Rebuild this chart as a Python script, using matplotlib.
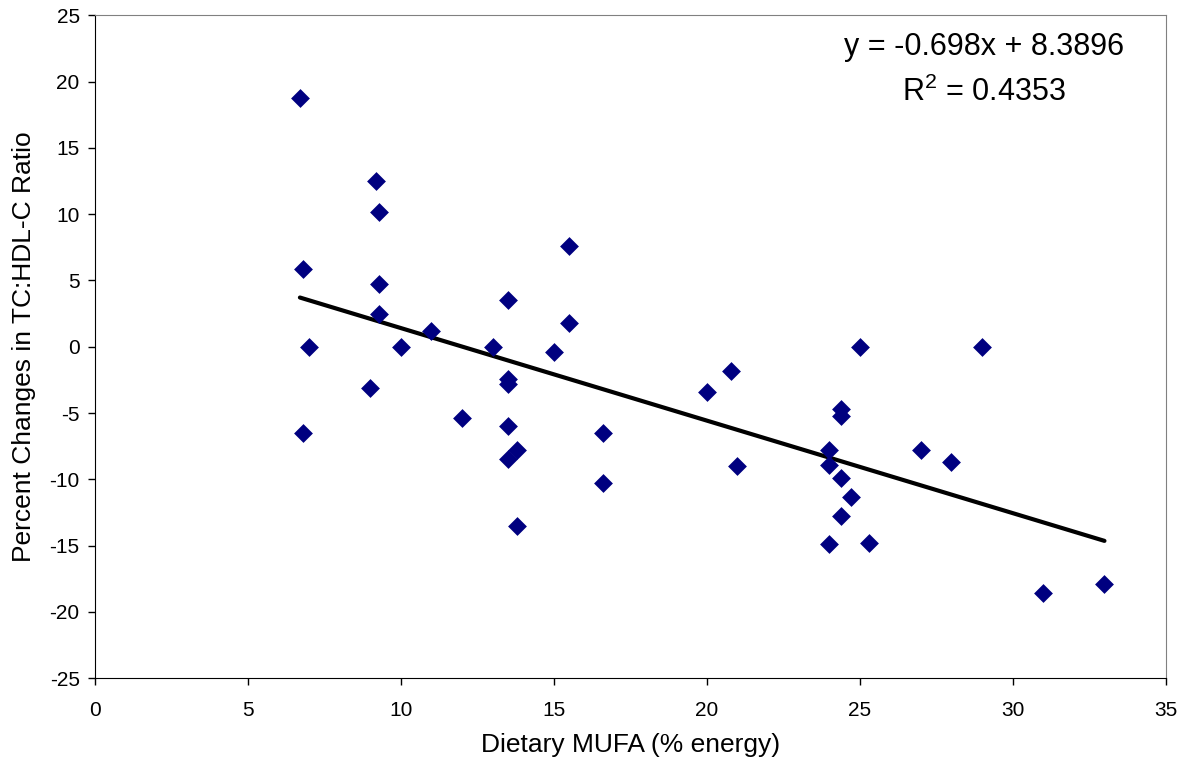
import numpy as np
import matplotlib
matplotlib.use("Agg")
import matplotlib.pyplot as plt

plt.rcParams['font.family'] = ['Liberation Sans', 'DejaVu Sans']
plt.rcParams['axes.unicode_minus'] = False
plt.rcParams['mathtext.default'] = 'regular'

# dietary MUFA (% energy) vs percent change in TC:HDL-C ratio
mufa = [6.7, 6.8, 6.8, 7.0, 9.0, 9.2, 9.3, 9.3, 9.3, 10.0, 11.0, 12.0, 13.0,
        13.5, 13.5, 13.5, 13.5, 13.5, 13.8, 13.8, 15.0, 15.5, 15.5, 16.6, 16.6,
        20.0, 20.8, 21.0, 24.0, 24.0, 24.0, 24.4, 24.4, 24.4, 24.4, 24.7, 25.0,
        25.3, 27.0, 28.0, 29.0, 31.0, 33.0]
pct_change = [18.8, 5.9, -6.5, 0.0, -3.1, 12.5, 10.2, 4.7, 2.5, 0.0, 1.2, -5.4, 0.0,
              3.5, -2.4, -2.8, -6.0, -8.5, -7.8, -13.5, -0.4, 7.6, 1.8, -6.5, -10.3,
              -3.4, -1.8, -9.0, -7.8, -8.9, -14.9, -4.7, -5.2, -9.9, -12.8, -11.3, 0.0,
              -14.8, -7.8, -8.7, 0.0, -18.6, -17.9]

slope = -0.698
intercept = 8.3896
r2 = 0.4353

fig = plt.figure(figsize=(11.87, 7.68), dpi=100)
ax = fig.add_axes([0.080, 0.117, 0.902, 0.863])

ax.scatter(mufa, pct_change, marker='D', s=92, color='#000080', zorder=3, linewidths=0)

xfit = np.array([min(mufa), max(mufa)])
ax.plot(xfit, slope * xfit + intercept, color='black', lw=3, solid_capstyle='round', zorder=2)

ax.set_xlim(0, 35)
ax.set_ylim(-25, 25)
ax.set_xticks(range(0, 36, 5))
ax.set_yticks(range(-25, 26, 5))
ax.tick_params(direction='out', length=5, width=1, labelsize=15, colors='black')
ax.tick_params(axis='x', pad=11.5)
ax.tick_params(axis='y', pad=6)

for side in ['top', 'right']:
    ax.spines[side].set_color('#808080')
for side in ['left', 'bottom']:
    ax.spines[side].set_color('black')

ax.set_xlabel('Dietary MUFA (% energy)', fontsize=19)
ax.set_ylabel('Percent Changes in TC:HDL-C Ratio', fontsize=19)
ax.xaxis.set_label_coords(0.5, -0.083)
ax.yaxis.set_label_coords(-0.055, 0.5)

ax.text(0.830, 0.952, f'y = {slope}x + {intercept}', transform=ax.transAxes,
        fontsize=22, ha='center', va='center')
ax.text(0.830, 0.884, f'R$^{{2}}$ = {r2}', transform=ax.transAxes,
        fontsize=22, ha='center', va='center')

fig.savefig('out.png', dpi=100)
